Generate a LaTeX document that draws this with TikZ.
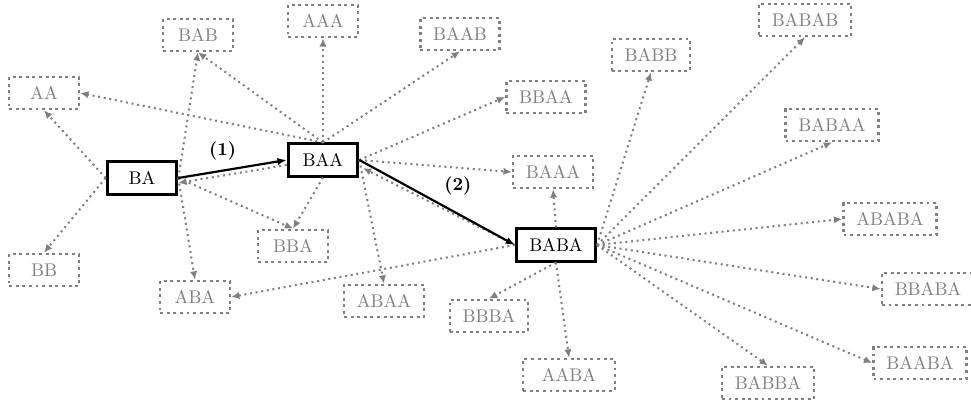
\documentclass[tikz,border=0pt]{standalone}
\usepackage{tikz}
\usetikzlibrary{arrows.meta}

\begin{document}
\begin{tikzpicture}[x=0.545pt, y=-0.545pt,
  word/.style={draw, line width=1.6pt, minimum width=38pt, minimum height=17.5pt, inner xsep=7pt},
  cand/.style={word, gray, dotted, line width=1.4pt},
  dots/.style={gray, dotted, line width=1.1pt, -{Latex[length=4.5pt,width=4pt]}},
  taken/.style={line width=1.2pt, -{Latex[length=5pt,width=4pt]}}]
\useasboundingbox (0,0) rectangle (971,403);
\node[word] (BA) at (142,178) {BA};
\node[word] (BAA) at (323,160) {BAA};
\node[word] (BABA) at (556,245) {BABA};
\node[cand] (AA) at (44,93) {AA};
\node[cand] (BB) at (44,270) {BB};
\node[cand] (BAB) at (198,35) {BAB};
\node[cand] (AAA) at (323,21) {AAA};
\node[cand] (BAAB) at (460,34) {BAAB};
\node[cand] (BBAA) at (546,97) {BBAA};
\node[cand] (BAAA) at (553,172) {BAAA};
\node[cand] (BBA) at (293,246) {BBA};
\node[cand] (ABA) at (195,297) {ABA};
\node[cand] (ABAA) at (384,301) {ABAA};
\node[cand] (BBBA) at (489,316) {BBBA};
\node[cand, minimum width=50pt] (AABA) at (569,375) {AABA};
\node[cand] (BABB) at (651,55) {BABB};
\node[cand] (BABAB) at (805,20) {BABAB};
\node[cand] (BABAA) at (832,125) {BABAA};
\node[cand] (ABABA) at (890,219) {ABABA};
\node[cand] (BBABA) at (928,289) {BBABA};
\node[cand] (BAABA) at (920,363) {BAABA};
\node[cand] (BABBA) at (768,383) {BABBA};
%\path[dots] from BA
\path[dots]
(BA.west) edge (AA.south)
(BA.west) edge (BB.north)
(BA.east) edge (BAB.south)
(BA.east) edge (ABA.north)
(BA.east) edge (BBA.north)
;
%\path[dots] from BAA
\path[dots]
(BAA.north) edge (AA.east)
(BAA.north) edge (BAB.south)
(BAA.north) edge (AAA.south)
(BAA.north) edge (BAAB.south)
(BAA.east) edge (BBAA.west)
(BAA.east) edge (BAAA.west)
([yshift=-2.7pt]BAA.west) edge ([yshift=-2.7pt]BA.east)
(BAA.south) edge (BBA.north)
(BAA.east) edge (ABAA.north)
;
%\path[dots] from BABA
\path[dots]
(BABA.north) edge (BAAA.south)
(BABA.west) edge ([xshift=2pt,yshift=-4.4pt]BAA.east)
(BABA.west) edge (ABA.east)
(BABA.south) edge (BBBA.north)
(BABA.south) edge (AABA.north)
(BABA.east) edge (BABB.south)
(BABA.east) edge (BABAB.south)
(BABA.east) edge (BABAA.south)
(BABA.east) edge (ABABA.west)
(BABA.east) edge (BBABA.west)
(BABA.east) edge (BAABA.west)
(BABA.east) edge (BABBA.north)
;
\path[taken]
(BA.east) edge node[auto, pos=0.6]{\textbf{(1)}} (BAA.west)
(BAA.east) edge node[auto, pos=0.5]{\textbf{(2)}} (BABA.west)
;
\end{tikzpicture}
\end{document}
